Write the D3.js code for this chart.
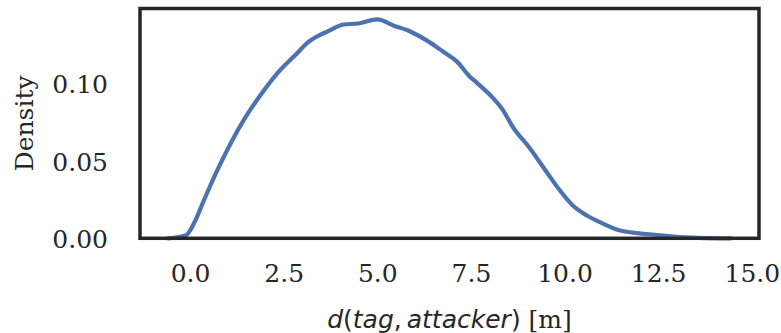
<!DOCTYPE html>
<html>
<head>
<meta charset="utf-8">
<script src="https://cdn.jsdelivr.net/npm/d3@7"></script>
<style>
  html, body { margin: 0; padding: 0; background: #fff; }
  svg { display: block; }
  .tick text { font-family: "DejaVu Serif", serif; fill: #262626; }
</style>
</head>
<body>
<svg id="chart" width="781" height="333"></svg>
<script>
// Kernel density estimate of the tag–attacker distance (metres)
const distance = [-0.585, -0.106, 0.106, 0.372, 0.691, 1.090, 1.436, 1.888, 2.340, 2.872,
  3.138, 3.484, 3.670, 4.096, 4.495, 5.000, 5.426, 5.878, 6.330, 6.755, 7.128, 7.473,
  7.660, 8.085, 8.351, 8.617, 9.069, 9.521, 9.867, 10.213, 10.585, 11.011, 11.463,
  12.261, 13.590, 14.441];
const density = [0.0000, 0.0020, 0.0097, 0.0247, 0.0422, 0.0617, 0.0766, 0.0929, 0.1071, 0.1201,
  0.1266, 0.1318, 0.1338, 0.1383, 0.1390, 0.1416, 0.1377, 0.1338, 0.1279, 0.1208, 0.1143, 0.1045,
  0.1006, 0.0909, 0.0831, 0.0721, 0.0584, 0.0429, 0.0312, 0.0214, 0.0149, 0.0097, 0.0052,
  0.0026, 0.0003, 0.0000];
const xTicks = [0.0, 2.5, 5.0, 7.5, 10.0, 12.5, 15.0];
const yTicks = [0.00, 0.05, 0.10];

const svg = d3.select("#chart");
const plot = { left: 140, right: 759, top: 8.5, bottom: 238.3 };
const fontSize = 25;

const xPad = 0.05 * (d3.max(distance) - d3.min(distance));
const x = d3.scaleLinear()
  .domain([d3.min(distance) - xPad, d3.max(distance) + xPad])
  .range([plot.left, plot.right]);
const y = d3.scaleLinear()
  .domain([0, d3.max(density) * 1.05])
  .range([plot.bottom, plot.top]);

// x axis tick labels (no tick marks)
const xAxis = svg.append("g")
  .attr("transform", `translate(0,${plot.bottom})`)
  .call(d3.axisBottom(x).tickValues(xTicks).tickFormat(d3.format(".1f")).tickSize(0).tickPadding(26));
xAxis.select(".domain").remove();
xAxis.selectAll("text").attr("font-size", fontSize);

// y axis tick labels
const yAxis = svg.append("g")
  .attr("transform", `translate(${plot.left},0)`)
  .call(d3.axisLeft(y).tickValues(yTicks).tickFormat(d3.format(".2f")).tickSize(0).tickPadding(32));
yAxis.select(".domain").remove();
yAxis.selectAll("text").attr("font-size", fontSize).attr("dy", "0.36em");

// density curve
const line = d3.line()
  .x((d, i) => x(distance[i]))
  .y(d => y(d))
  .curve(d3.curveMonotoneX);
svg.append("path")
  .datum(density)
  .attr("d", line)
  .attr("fill", "none")
  .attr("stroke", "#4c72b0")
  .attr("stroke-width", 4.2)
  .attr("stroke-linejoin", "round")
  .attr("stroke-linecap", "round");

// frame
svg.append("rect")
  .attr("x", plot.left).attr("y", plot.top)
  .attr("width", plot.right - plot.left).attr("height", plot.bottom - plot.top)
  .attr("fill", "none").attr("stroke", "#262626").attr("stroke-width", 3.5);

// axis titles
const xTitle = svg.append("text")
  .attr("x", (plot.left + plot.right) / 2).attr("y", 328)
  .attr("text-anchor", "middle").attr("fill", "#262626").attr("font-size", fontSize);
xTitle.append("tspan").attr("font-family", "DejaVu Sans").attr("font-style", "italic").text("d");
xTitle.append("tspan").attr("font-family", "DejaVu Sans").text("(");
xTitle.append("tspan").attr("font-family", "DejaVu Sans").attr("font-style", "italic").text("tag");
xTitle.append("tspan").attr("font-family", "DejaVu Sans").text(",");
xTitle.append("tspan").attr("font-family", "DejaVu Sans").attr("font-style", "italic").attr("dx", 5).text("attacker");
xTitle.append("tspan").attr("font-family", "DejaVu Sans").text(")");
xTitle.append("tspan").attr("font-family", "DejaVu Serif").text(" [m]");

svg.append("text")
  .attr("transform", `translate(33,${(plot.top + plot.bottom) / 2}) rotate(-90)`)
  .attr("text-anchor", "middle")
  .attr("font-family", "DejaVu Serif").attr("font-size", fontSize).attr("fill", "#262626")
  .text("Density");
</script>
</body>
</html>
